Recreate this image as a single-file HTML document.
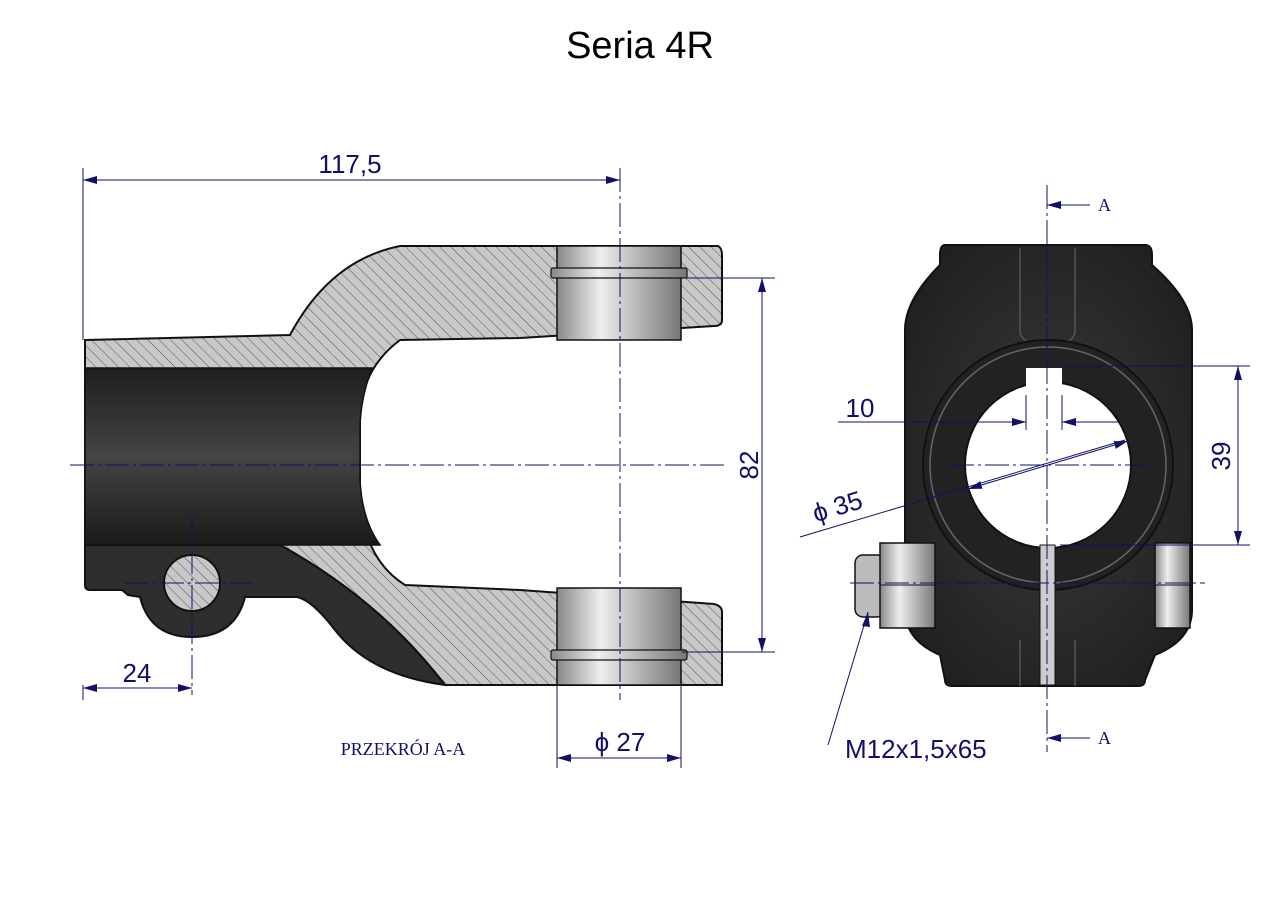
<!DOCTYPE html>
<html><head><meta charset="utf-8"><style>
html,body{margin:0;padding:0;background:#fff;width:1280px;height:905px;overflow:hidden}
svg{display:block}
</style></head><body>
<svg width="1280" height="905" viewBox="0 0 1280 905" xmlns="http://www.w3.org/2000/svg">
<defs>
<pattern id="h" width="8" height="8" patternUnits="userSpaceOnUse" patternTransform="rotate(-45)">
<rect width="8" height="8" fill="#c8c8c8"/><line x1="0" y1="0" x2="0" y2="8" stroke="#555" stroke-width="1"/>
</pattern>
<linearGradient id="bore" x1="0" y1="0" x2="0" y2="1">
<stop offset="0" stop-color="#1e1e1e"/><stop offset="0.5" stop-color="#444"/><stop offset="1" stop-color="#1a1a1a"/>
</linearGradient>
<linearGradient id="bush" x1="0" y1="0" x2="1" y2="0">
<stop offset="0" stop-color="#888"/><stop offset="0.35" stop-color="#eee"/><stop offset="1" stop-color="#777"/>
</linearGradient>
<radialGradient id="body" cx="0.5" cy="0.5" r="0.7">
<stop offset="0" stop-color="#3a3a3a"/><stop offset="1" stop-color="#1c1c1c"/>
</radialGradient>
<marker id="ar" markerWidth="14" markerHeight="8" refX="14" refY="4" orient="auto" markerUnits="userSpaceOnUse">
<path d="M0,0 L14,4 L0,8 Z" fill="#10106a"/></marker>
<marker id="al" markerWidth="14" markerHeight="8" refX="0" refY="4" orient="auto" markerUnits="userSpaceOnUse">
<path d="M14,0 L0,4 L14,8 Z" fill="#10106a"/></marker>
</defs>

<text x="640" y="58" font-family="Liberation Sans, sans-serif" font-size="38" text-anchor="middle">Seria 4R</text>

<!-- LEFT VIEW -->
<path d="M85,340 L290,335 Q330,260 400,246 L718,246 Q722,248 722,255 L722,320 Q722,326 714,326 L520,338 L400,340 Q360,370 360,420 L360,500 Q365,560 405,585 L520,590 L714,604 Q722,606 722,612 L722,685 L445,685 Q380,600 280,545 L85,545 Z" fill="url(#h)" stroke="#111" stroke-width="2"/>
<!-- dark lower wall -->
<path d="M85,545 L280,545 Q380,600 445,685 Q370,675 335,630 Q312,600 297,597 L245,597 Q235,637 192,637 Q150,637 140,597 L128,595 L122,590 L90,590 Q85,590 85,585 Z" fill="#2e2e2e" stroke="#111" stroke-width="2"/>
<!-- bore -->
<path d="M85,368 L372,368 Q360,400 360,430 L360,480 Q362,520 380,545 L85,545 Z" fill="url(#bore)" stroke="#111" stroke-width="1.5"/>
<circle cx="192" cy="583" r="28" fill="url(#h)" stroke="#111" stroke-width="2"/>
<!-- bushings -->
<rect x="557" y="246" width="124" height="94" fill="url(#bush)" stroke="#111" stroke-width="1.5"/>
<rect x="551" y="268" width="136" height="10" fill="url(#bush)" stroke="#111" stroke-width="1.2" rx="2"/>
<rect x="557" y="588" width="124" height="97" fill="url(#bush)" stroke="#111" stroke-width="1.5"/>
<rect x="551" y="650" width="136" height="10" fill="url(#bush)" stroke="#111" stroke-width="1.2" rx="2"/>

<g stroke="#10106a" stroke-width="1" fill="none">
<line x1="70" y1="465" x2="725" y2="465" stroke-dasharray="24,4,3,4"/>
<line x1="620" y1="168" x2="620" y2="700" stroke-dasharray="24,4,3,4"/>
<line x1="192" y1="515" x2="192" y2="695" stroke-dasharray="24,4,3,4"/>
<line x1="125" y1="583" x2="255" y2="583" stroke-dasharray="24,4,3,4"/>
<line x1="83" y1="168" x2="83" y2="340"/>
<line x1="83" y1="180" x2="620" y2="180" marker-start="url(#al)" marker-end="url(#ar)"/>
<line x1="682" y1="278" x2="775" y2="278"/>
<line x1="682" y1="652" x2="775" y2="652"/>
<line x1="762" y1="278" x2="762" y2="652" marker-start="url(#al)" marker-end="url(#ar)"/>
<line x1="83" y1="685" x2="83" y2="700"/>
<line x1="83" y1="688" x2="192" y2="688" marker-start="url(#al)" marker-end="url(#ar)"/>
<line x1="557" y1="685" x2="557" y2="768"/>
<line x1="681" y1="685" x2="681" y2="768"/>
<line x1="557" y1="758" x2="681" y2="758" marker-start="url(#al)" marker-end="url(#ar)"/>
</g>
<g font-family="Liberation Sans, sans-serif" font-size="26" fill="#10106a">
<text x="350" y="173" text-anchor="middle">117,5</text>
<text x="137" y="682" text-anchor="middle">24</text>
<text x="620" y="751" text-anchor="middle">ϕ 27</text>
<text transform="translate(758,465) rotate(-90)" text-anchor="middle">82</text>
</g>
<text x="403" y="755" font-family="Liberation Serif, serif" font-size="18" fill="#10106a" text-anchor="middle">PRZEKRÓJ A-A</text>

<!-- RIGHT VIEW -->
<path d="M945,245 L1145,245 Q1152,245 1152,255 L1152,265 Q1192,300 1192,330 L1192,610 Q1192,640 1155,655 L1145,680 Q1145,686 1138,686 L952,686 Q945,686 945,680 L940,655 Q905,640 905,610 L905,330 Q905,300 940,265 L940,255 Q940,245 945,245 Z" fill="url(#body)" stroke="#111" stroke-width="2"/>
<path d="M1020,248 L1020,330 Q1020,345 1048,345 Q1075,345 1075,330 L1075,248" fill="none" stroke="#555" stroke-width="1.5"/>
<path d="M1020,686 L1020,640 M1075,686 L1075,640" stroke="#555" stroke-width="1.5"/>
<circle cx="1048" cy="465" r="125" fill="#222" stroke="#111" stroke-width="2"/>
<circle cx="1048" cy="465" r="118" fill="none" stroke="#666" stroke-width="1.5"/>
<circle cx="1048" cy="465" r="83" fill="#fff" stroke="#111" stroke-width="2"/>
<rect x="1026" y="368" width="36" height="22" fill="#fff"/>
<rect x="1040" y="545" width="15" height="140" fill="#ccc" stroke="#111" stroke-width="1"/>
<rect x="855" y="555" width="30" height="62" rx="8" fill="#bbb" stroke="#111" stroke-width="1.5"/>
<rect x="880" y="543" width="55" height="85" fill="url(#bush)" stroke="#111" stroke-width="1.5"/>
<line x1="880" y1="585" x2="935" y2="585" stroke="#111"/>
<rect x="1155" y="543" width="35" height="85" fill="url(#bush)" stroke="#111" stroke-width="1.5"/>
<line x1="1155" y1="585" x2="1190" y2="585" stroke="#111"/>

<g stroke="#10106a" stroke-width="1" fill="none">
<line x1="1047" y1="185" x2="1047" y2="752" stroke-dasharray="24,4,3,4"/>
<line x1="950" y1="465" x2="1150" y2="465" stroke-dasharray="24,4,3,4"/>
<line x1="850" y1="583" x2="1205" y2="583" stroke-dasharray="24,4,3,4"/>
<line x1="1090" y1="205" x2="1047" y2="205" marker-end="url(#ar)"/>
<line x1="1090" y1="738" x2="1047" y2="738" marker-end="url(#ar)"/>
<line x1="1062" y1="366" x2="1250" y2="366"/>
<line x1="1060" y1="545" x2="1250" y2="545"/>
<line x1="1238" y1="366" x2="1238" y2="545" marker-start="url(#al)" marker-end="url(#ar)"/>
<line x1="838" y1="422" x2="1026" y2="422" marker-end="url(#ar)"/>
<line x1="1120" y1="422" x2="1062" y2="422" marker-end="url(#ar)"/>
<line x1="1026" y1="395" x2="1026" y2="430"/>
<line x1="1062" y1="395" x2="1062" y2="430"/>
<line x1="800" y1="537" x2="1125" y2="440"/>
<line x1="1048" y1="465" x2="968" y2="489" marker-end="url(#ar)"/>
<line x1="1048" y1="465" x2="1128" y2="441" marker-end="url(#ar)"/>
<polyline points="828,745 868,612"/>
</g>
<path d="M868,612 L862,626 L870,627 Z" fill="#10106a"/>
<g font-family="Liberation Sans, sans-serif" font-size="26" fill="#10106a">
<text x="860" y="417" text-anchor="middle">10</text>
<text transform="translate(840,515) rotate(-17)" text-anchor="middle">ϕ 35</text>
<text transform="translate(1230,456) rotate(-90)" text-anchor="middle">39</text>
<text x="845" y="758">M12x1,5x65</text>
</g>
<g font-family="Liberation Serif, serif" font-size="18" fill="#10106a">
<text x="1098" y="211">A</text>
<text x="1098" y="744">A</text>
</g>
</svg>
</body></html>
